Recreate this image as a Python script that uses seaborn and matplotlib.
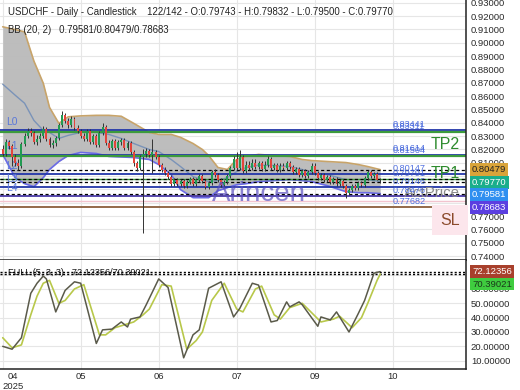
import numpy as np
import matplotlib
matplotlib.use("Agg")
import matplotlib.pyplot as plt
import matplotlib.transforms as mtransforms
import seaborn as sns

# --------------------------------------------------
# DATA
# --------------------------------------------------

opens = [0.8199, 0.8162, 0.8252, 0.8222, 0.8139, 0.8101, 0.8079, 0.8237, 0.8297, 0.8335,
         0.8320, 0.8252, 0.8275, 0.8297, 0.8350, 0.8275, 0.8229, 0.8244, 0.8282, 0.8380,
         0.8455, 0.8410, 0.8380, 0.8425, 0.8358, 0.8335, 0.8297, 0.8275, 0.8335, 0.8252,
         0.8297, 0.8229, 0.8320, 0.8365, 0.8244, 0.8207, 0.8260, 0.8207, 0.8252, 0.8267,
         0.8207, 0.8244, 0.8177, 0.8094, 0.8064, 0.8139, 0.8162, 0.8184, 0.8154, 0.8177,
         0.8139, 0.8086, 0.8049, 0.8026, 0.7996, 0.7943, 0.7973, 0.7943, 0.7966, 0.7928,
         0.7958, 0.7981, 0.7943, 0.7973, 0.8003, 0.7966, 0.7920, 0.7951, 0.8033, 0.8011,
         0.7973, 0.7935, 0.7958, 0.8003, 0.8064, 0.8124, 0.8064, 0.8139, 0.8041, 0.8086,
         0.8064, 0.8101, 0.8071, 0.8094, 0.8056, 0.8086, 0.8124, 0.8064, 0.8086, 0.8049,
         0.8079, 0.8064, 0.8094, 0.8071, 0.8033, 0.8056, 0.8011, 0.8041, 0.8003, 0.8033,
         0.8079, 0.8026, 0.7988, 0.8011, 0.7973, 0.7996, 0.7958, 0.7981, 0.7943, 0.7966,
         0.7928, 0.7875, 0.7898, 0.7928, 0.7913, 0.7951, 0.7935, 0.7988, 0.8033, 0.8003,
         0.8018, 0.79743]
highs = [0.8229, 0.8275, 0.8267, 0.8237, 0.8162, 0.8124, 0.8252, 0.8320, 0.8358, 0.8358,
         0.8335, 0.8305, 0.8320, 0.8373, 0.8365, 0.8290, 0.8267, 0.8297, 0.8395, 0.8486,
         0.8471, 0.8433, 0.8448, 0.8440, 0.8380, 0.8350, 0.8320, 0.8350, 0.8350, 0.8312,
         0.8312, 0.8335, 0.8395, 0.8380, 0.8267, 0.8275, 0.8275, 0.8267, 0.8282, 0.8282,
         0.8260, 0.8260, 0.8192, 0.8116, 0.8154, 0.8199, 0.8207, 0.8199, 0.8275, 0.8192,
         0.8154, 0.8101, 0.8071, 0.8041, 0.8011, 0.7988, 0.7988, 0.7981, 0.7981, 0.7973,
         0.7996, 0.7996, 0.7988, 0.8018, 0.8018, 0.7981, 0.7966, 0.8049, 0.8056, 0.8026,
         0.7988, 0.7973, 0.8018, 0.8079, 0.8147, 0.8177, 0.8192, 0.8154, 0.8109, 0.8109,
         0.8124, 0.8124, 0.8116, 0.8109, 0.8109, 0.8147, 0.8139, 0.8101, 0.8101, 0.8094,
         0.8094, 0.8109, 0.8109, 0.8086, 0.8071, 0.8071, 0.8056, 0.8056, 0.8049, 0.8094,
         0.8094, 0.8041, 0.8026, 0.8026, 0.8011, 0.8011, 0.7996, 0.7996, 0.7981, 0.7981,
         0.7943, 0.7913, 0.7943, 0.7943, 0.7966, 0.7966, 0.8003, 0.8049, 0.8049, 0.8033,
         0.8033, 0.79832]
lows = [0.8147, 0.8147, 0.8199, 0.8079, 0.8079, 0.8049, 0.8064, 0.8222, 0.8282, 0.8297,
        0.8237, 0.8229, 0.8252, 0.8282, 0.8260, 0.8214, 0.8207, 0.8222, 0.8267, 0.8365,
        0.8395, 0.8358, 0.8365, 0.8342, 0.8320, 0.8282, 0.8260, 0.8260, 0.8237, 0.8237,
        0.8214, 0.8214, 0.8305, 0.8229, 0.8192, 0.8192, 0.8192, 0.8192, 0.8229, 0.8192,
        0.8192, 0.8162, 0.8079, 0.8041, 0.8049, 0.7574, 0.8139, 0.8139, 0.8026, 0.8124,
        0.8071, 0.8033, 0.8011, 0.7981, 0.7928, 0.7928, 0.7928, 0.7928, 0.7913, 0.7913,
        0.7943, 0.7928, 0.7928, 0.7958, 0.7951, 0.7905, 0.7905, 0.7935, 0.7996, 0.7958,
        0.7920, 0.7920, 0.7943, 0.7988, 0.8049, 0.8049, 0.8049, 0.8026, 0.8026, 0.8049,
        0.8049, 0.8056, 0.8056, 0.8041, 0.8041, 0.8071, 0.8049, 0.8049, 0.8033, 0.8033,
        0.8049, 0.8049, 0.8056, 0.8018, 0.8018, 0.7996, 0.7996, 0.7988, 0.7988, 0.8018,
        0.8011, 0.7973, 0.7973, 0.7958, 0.7958, 0.7943, 0.7943, 0.7928, 0.7928, 0.7913,
        0.7838, 0.7860, 0.7883, 0.7898, 0.7898, 0.7920, 0.7920, 0.7973, 0.7988, 0.7988,
        0.7973, 0.79500]
closes = [0.8162, 0.8252, 0.8222, 0.8139, 0.8101, 0.8079, 0.8237, 0.8297, 0.8335, 0.8320,
          0.8252, 0.8275, 0.8297, 0.8350, 0.8275, 0.8229, 0.8244, 0.8282, 0.8380, 0.8455,
          0.8410, 0.8380, 0.8425, 0.8358, 0.8335, 0.8297, 0.8275, 0.8335, 0.8252, 0.8297,
          0.8229, 0.8320, 0.8365, 0.8244, 0.8207, 0.8260, 0.8207, 0.8252, 0.8267, 0.8207,
          0.8244, 0.8177, 0.8094, 0.8064, 0.8139, 0.8162, 0.8184, 0.8154, 0.8177, 0.8139,
          0.8086, 0.8049, 0.8026, 0.7996, 0.7943, 0.7973, 0.7943, 0.7966, 0.7928, 0.7958,
          0.7981, 0.7943, 0.7973, 0.8003, 0.7966, 0.7920, 0.7951, 0.8033, 0.8011, 0.7973,
          0.7935, 0.7958, 0.8003, 0.8064, 0.8124, 0.8064, 0.8139, 0.8041, 0.8086, 0.8064,
          0.8101, 0.8071, 0.8094, 0.8056, 0.8086, 0.8124, 0.8064, 0.8086, 0.8049, 0.8079,
          0.8064, 0.8094, 0.8071, 0.8033, 0.8056, 0.8011, 0.8041, 0.8003, 0.8033, 0.8079,
          0.8026, 0.7988, 0.8011, 0.7973, 0.7996, 0.7958, 0.7981, 0.7943, 0.7966, 0.7928,
          0.7875, 0.7898, 0.7928, 0.7913, 0.7951, 0.7935, 0.7988, 0.8033, 0.8003, 0.8018,
          0.7974, 0.79770]

# Bollinger band (20, 2) read at selected bars
bb_bars = [0, 4, 7, 10, 13, 15, 18, 21, 25, 30, 34, 38, 42, 47, 50, 54, 57, 61, 64, 66,
           69, 72, 75, 78, 82, 87, 92, 96, 99, 104, 110, 114, 117, 121]
bb_upper = [0.9119, 0.9098, 0.9081, 0.8862, 0.8696, 0.8515, 0.8395, 0.8444, 0.8451, 0.8455,
            0.8455, 0.8448, 0.8395, 0.8327, 0.8312, 0.8312, 0.8290, 0.8244, 0.8199, 0.8154,
            0.8064, 0.8049, 0.8124, 0.8147, 0.8162, 0.8154, 0.8147, 0.8124, 0.8116, 0.8109,
            0.8101, 0.8086, 0.8071, 0.80479]
bb_mid = [0.8689, 0.8606, 0.8546, 0.8417, 0.8342, 0.8327, 0.8282, 0.8305, 0.8327, 0.8327,
          0.8312, 0.8282, 0.8244, 0.8199, 0.8184, 0.8124, 0.8071, 0.7996, 0.7973, 0.7958,
          0.7966, 0.7988, 0.8033, 0.8064, 0.8082, 0.8079, 0.8071, 0.8049, 0.8026, 0.8011,
          0.7973, 0.7973, 0.7973, 0.79581]
bb_lower = [0.8162, 0.7988, 0.7943, 0.7920, 0.7988, 0.8049, 0.8109, 0.8154, 0.8177, 0.8169,
            0.8147, 0.8143, 0.8139, 0.8124, 0.8086, 0.8011, 0.7898, 0.7838, 0.7838, 0.7838,
            0.7890, 0.7913, 0.7935, 0.7943, 0.7958, 0.7966, 0.7973, 0.7966, 0.7958, 0.7928,
            0.7883, 0.7875, 0.7875, 0.78683]

# Full stochastic (5, 3, 3) read at selected bars
k_bars = [0, 3, 6, 9, 11, 13, 14, 17, 20, 23, 25, 30, 32, 35, 38, 40, 41, 44, 46, 50,
          53, 58, 61, 63, 66, 70, 74, 76, 80, 82, 86, 88, 91, 92, 95, 96, 101, 102, 105,
          107, 111, 114, 116, 119, 121]
k_vals = [20, 18, 26, 57, 64, 69, 67, 44, 59, 65, 64, 22, 31.5, 32, 37, 33.5, 39, 40.5,
          49, 67, 61, 12, 28, 31.5, 60.5, 65, 40.5, 46.5, 64, 62.7, 37, 38, 51, 47.5, 51,
          49, 34, 40.5, 38.4, 44, 30, 43, 52, 71, 72.12356]
d_bars = [0, 3, 6, 9, 11, 13, 15, 18, 20, 23, 26, 31, 33, 36, 39, 42, 45, 47, 51, 54,
          59, 62, 64, 67, 71, 75, 77, 81, 83, 87, 89, 92, 96, 102, 106, 108, 112, 115,
          117, 120, 121]
d_vals = [26, 19, 21, 42, 55, 64, 66, 50, 52, 60, 63, 28, 28, 33, 35, 37, 42, 46, 63, 62,
          18, 24, 30, 52, 64, 46, 44, 60, 62, 42, 39, 47, 50, 37, 39, 41, 33, 40, 50, 66,
          70.39021]

# horizontal levels
levels = {
    "L0": 0.83441, "G0": 0.83311, "L1": 0.81614, "TP2": 0.81504, "L2": 0.80147,
    "TP1": 0.79791, "L3": 0.79146, "L4": 0.78476, "SL": 0.77682,
}
act_price = 0.78160
bb_now = [0.79581, 0.80479, 0.78683]
last_close = 0.79770

month_bars = [0, 25, 50, 75, 100, 125]
month_labels = ["04\n2025", "05", "06", "07", "09", "10"]

# --------------------------------------------------
# STYLE
# --------------------------------------------------

sns.set_theme(style="white")
plt.rcParams["font.family"] = ["Liberation Sans", "DejaVu Sans"]

BLUE = "#2236a8"
GREEN = "#3c9b3c"
TXT = "#2a2a2a"

fig = plt.figure(figsize=(5.2, 3.9), dpi=100)
ax = fig.add_axes([0, 0.3333, 466 / 520, 0.6667])
ax2 = fig.add_axes([0, 21 / 390, 466 / 520, 109 / 390], sharex=ax)

idx = np.arange(len(closes))
ax.set_xlim(-0.87, 148.5)
ax.set_ylim(0.73703, 0.93200)
ax2.set_ylim(4.2, 80.2)

for a in (ax, ax2):
    a.grid(True, color="#e6e6e6", lw=0.8)
    a.set_axisbelow(True)
    for s in ("top", "left"):
        a.spines[s].set_visible(False)
    a.spines["right"].set_color("#222222")
    a.spines["bottom"].set_color("#222222")
    a.spines["right"].set_linewidth(1.1)
    a.spines["bottom"].set_linewidth(1.1)
    a.yaxis.tick_right()
    a.tick_params(axis="y", length=0, pad=3.5, labelsize=6.8, labelcolor=TXT)
    a.set_xticks(month_bars)

ax.tick_params(axis="x", length=0, labelbottom=False)
ax2.tick_params(axis="x", length=0, pad=2, labelsize=6.8, labelcolor=TXT)
ax2.set_xticklabels(month_labels)
ax2.get_xticklabels()[0].set_horizontalalignment("left")
ax2.get_xticklabels()[0].set_multialignment("center")

yt = np.round(np.arange(0.74, 0.935, 0.01), 2)
ax.set_yticks(yt)
ax.set_yticklabels([f"{v:.5f}" for v in yt])
yt2 = np.arange(10, 80, 10)
ax2.set_yticks(yt2)
ax2.set_yticklabels([f"{v:.5f}" for v in yt2])

# --------------------------------------------------
# BOLLINGER BANDS
# --------------------------------------------------

ax.fill_between(bb_bars, bb_lower, bb_upper, color="#bababa", alpha=0.95, lw=0, zorder=1)
sns.lineplot(x=bb_bars, y=bb_upper, ax=ax, color="#c8a46a", lw=1.2, zorder=2)
sns.lineplot(x=bb_bars, y=bb_mid, ax=ax, color="#7a93b8", lw=1.0, zorder=2)
sns.lineplot(x=bb_bars, y=bb_lower, ax=ax, color="#6b6be6", lw=1.2, zorder=2)

# --------------------------------------------------
# LEVEL LINES
# --------------------------------------------------

line_style = {
    "L0": (BLUE, 1.3), "G0": (GREEN, 1.6), "L1": (BLUE, 1.3), "TP2": (GREEN, 1.6),
    "L2": (BLUE, 1.3), "TP1": (GREEN, 1.0), "L3": (BLUE, 1.3), "L4": ("#4a3aa8", 1.3),
    "SL": ("#8b5e3c", 1.3),
}
for name, val in levels.items():
    col, lw = line_style[name]
    ax.axhline(val, color=col, lw=lw, zorder=2.2)
    ax.annotate(f"{val:.5f}", xy=(125, val), xytext=(0, 0.8), textcoords="offset points",
                fontsize=6.6, color="#3f62dc", alpha=0.9, va="bottom", ha="left", zorder=6)
ax.axhline(act_price, color="#f2c4cf", lw=1.0, zorder=2.1)

for v in bb_now + [last_close]:
    ax.axhline(v, color="black", lw=0.9, ls=(0, (2.5, 2)), zorder=2.3)

for name in ["L0", "L1", "L2", "L3", "L4"]:
    ax.annotate(name, xy=(1.0, levels[name]), xytext=(0, 2.5), textcoords="offset points",
                fontsize=7.5, color="#5a78d8", va="bottom", ha="left", zorder=2.4)

# --------------------------------------------------
# CANDLES
# --------------------------------------------------

o = np.array(opens)
c = np.array(closes)
up = c >= o
colors = np.where(up, "#239a52", "#e2453c")
ax.vlines(idx, lows, highs, color="#333333", lw=0.7, zorder=3)
body = np.maximum(np.abs(c - o), 0.00025)
ax.bar(idx, body, bottom=np.minimum(o, c), width=0.62, color=colors, lw=0, zorder=4)

# --------------------------------------------------
# TEXT ON MAIN PANEL
# --------------------------------------------------

ax.text(82, 0.7862, "Arincen", fontsize=20, color="#5a4fbf", alpha=0.7,
        ha="center", va="center", zorder=5)

ax.annotate("TP2", xy=(146.6, levels["TP2"]), xytext=(0, 3), textcoords="offset points",
            fontsize=11.5, color="#2e8b2e", ha="right", va="bottom", zorder=6)
ax.annotate("TP1", xy=(146.6, levels["TP1"]), xytext=(0, -1.5), textcoords="offset points",
            fontsize=11.5, color="#2e8b2e", ha="right", va="bottom", zorder=6)
ax.annotate("ActPrice", xy=(146.6, levels["L4"]), xytext=(0, -2.5), textcoords="offset points",
            fontsize=10.8, color="#8a8a8a", ha="right", va="bottom", zorder=5.5)
ax.annotate("SL", xy=(146.6, levels["SL"]), xytext=(0, -4), textcoords="offset points",
            fontsize=11.5, color="#8b4a2b", ha="right", va="top", zorder=6,
            bbox=dict(boxstyle="square,pad=0.5", fc="#fce6ec", ec="none"))

# price boxes on the right axis
trans = mtransforms.blended_transform_factory(ax.transAxes, ax.transData)
box_h = 12.5 / 1327
boxes = [(bb_now[1], "#d9a43a", "#222222"), (last_close, "#1aae8c", "white"),
         (bb_now[0], "#2f8ff0", "white"), (bb_now[2], "#5b3fe0", "white")]
prev = None
for val, fc, tc in boxes:
    pos = val if prev is None else min(val, prev - box_h)
    ax.text(1.013, pos, f"{val:.5f}", transform=trans, fontsize=6.8, color=tc,
            ha="left", va="center", clip_on=False, zorder=10,
            bbox=dict(boxstyle="square,pad=0.2", fc=fc, ec="none"))
    prev = pos

# --------------------------------------------------
# STOCHASTIC PANEL
# --------------------------------------------------

sns.lineplot(x=d_bars, y=d_vals, ax=ax2, color="#b8c84a", lw=1.2, zorder=3)
sns.lineplot(x=k_bars, y=k_vals, ax=ax2, color="#5a5a4a", lw=1.1, zorder=4)
ax2.axhline(k_vals[-1], color="black", lw=1.0, ls=(0, (1.5, 1.5)), zorder=2)
ax2.axhline(d_vals[-1], color="black", lw=1.0, ls=(0, (1.5, 1.5)), zorder=2)
ax2.text(1.7, 71.3, f"FULL (5, 3, 3) - {k_vals[-1]:.5f}/{d_vals[-1]:.5f}",
         fontsize=6.6, color="#111111", ha="left", va="center", zorder=5)

trans2 = mtransforms.blended_transform_factory(ax2.transAxes, ax2.transData)
h2 = 12.5 / 1.435
ax2.text(1.013, k_vals[-1], f"{k_vals[-1]:.5f}", transform=trans2, fontsize=6.8,
         color="white", ha="left", va="center", clip_on=False, zorder=10,
         bbox=dict(boxstyle="square,pad=0.2", fc="#a8402c", ec="none"))
ax2.text(1.013, min(d_vals[-1], k_vals[-1] - h2), f"{d_vals[-1]:.5f}", transform=trans2,
         fontsize=6.8, color="#1a3a1a", ha="left", va="center", clip_on=False, zorder=10,
         bbox=dict(boxstyle="square,pad=0.2", fc="#3fcc3f", ec="none"))

# --------------------------------------------------
# HEADER
# --------------------------------------------------

fig.text(8 / 520, 1 - 12 / 390,
         "USDCHF - Daily - Candlestick    122/142 - O:0.79743 - H:0.79832 - L:0.79500 - C:0.79770",
         fontsize=6.9, color="#222222", va="center", ha="left")
fig.text(8 / 520, 1 - 30 / 390, "BB (20, 2)   0.79581/0.80479/0.78683",
         fontsize=6.9, color="#222222", va="center", ha="left")

fig.savefig("out.png", dpi=100)
